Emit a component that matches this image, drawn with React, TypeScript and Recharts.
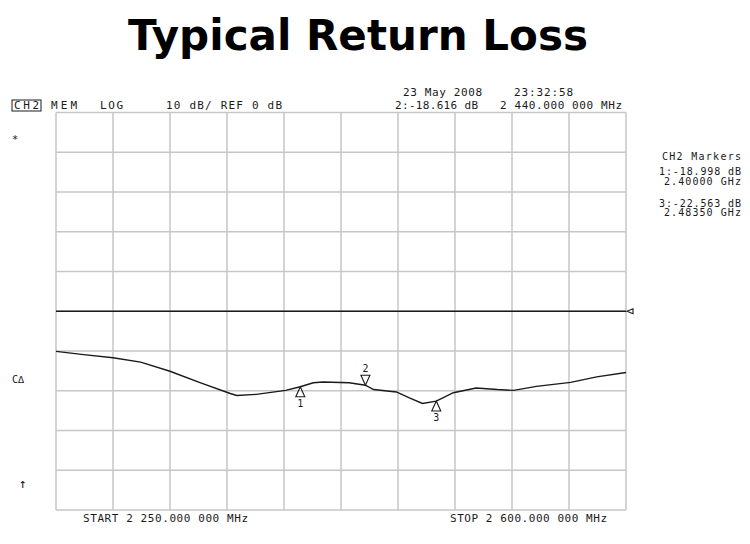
import {
  LineChart,
  Line,
  XAxis,
  YAxis,
  CartesianGrid,
  ReferenceLine,
  ReferenceDot
} from "recharts"

// S11 trace, CH2 memory, 2.25 - 2.60 GHz
const freqMHz = [
  2250, 2267, 2285, 2302, 2320, 2338, 2357, 2361, 2373, 2391, 2400, 2408, 2414,
  2430, 2440, 2445, 2459, 2467, 2475, 2483.5, 2494, 2508, 2521, 2531, 2545,
  2566, 2582, 2600
]
const returnLossDb = [
  -10.1, -10.9, -11.7, -12.8, -15.1, -17.9, -20.7, -21.2, -20.9, -19.9, -19.0,
  -18.0, -17.8, -18.0, -18.6, -19.7, -20.3, -21.8, -23.2, -22.6, -20.5, -19.3,
  -19.7, -19.9, -18.9, -17.9, -16.5, -15.4
]

// markers 1..3
const markerIds = [1, 2, 3]
const markerFreqMHz = [2400, 2440, 2483.5]
const markerDb = [-18.998, -18.616, -22.563]

// 10 divisions each way: 35 MHz/div, 10 dB/div, ref 0 dB
const freqTicks = [2250, 2285, 2320, 2355, 2390, 2425, 2460, 2495, 2530, 2565, 2600]
const dbTicks = [-50, -40, -30, -20, -10, 0, 10, 20, 30, 40, 50]

const MONO = "'DejaVu Sans Mono', 'Liberation Mono', monospace"
const INK = "#1a1a1a"

const data = freqMHz.map((f, i) => ({ f, db: returnLossDb[i] }))

const markerShape = (id: number) => (props: any) => {
  const { cx, cy } = props
  // marker 2 is the active one, drawn pointing down from above the trace
  const down = id === 2
  const h = 10
  const w = 4.5
  const pts = down
    ? `${cx},${cy} ${cx - w},${cy - h} ${cx + w},${cy - h}`
    : `${cx},${cy} ${cx - w},${cy + h} ${cx + w},${cy + h}`
  return (
    <g>
      <polygon points={pts} fill="none" stroke={INK} strokeWidth={1.1} />
      <text
        x={cx}
        y={down ? cy - h - 3 : cy + h + 10}
        textAnchor="middle"
        fontFamily={MONO}
        fontSize={10}
        fill={INK}
      >
        {id}
      </text>
    </g>
  )
}

const refEnd = (props: any) => {
  const { cx, cy } = props
  return (
    <polygon
      points={`${cx + 1},${cy} ${cx + 7},${cy - 2.5} ${cx + 7},${cy + 2.5}`}
      fill="none"
      stroke={INK}
      strokeWidth={1.1}
    />
  )
}

const T = ({ x, y, w, anchor, size, children }: any) => (
  <text
    x={x}
    y={y}
    textAnchor={anchor || "start"}
    fontFamily={MONO}
    fontSize={size || 11}
    fill={INK}
    textLength={w}
    lengthAdjust="spacing"
  >
    {children}
  </text>
)

export default function App() {
  return (
    <div
      style={{
        position: "absolute",
        left: 0,
        top: 0,
        width: 750,
        height: 544,
        background: "#fff"
      }}
    >
      <LineChart
        width={750}
        height={544}
        data={data}
        margin={{ top: 112.5, left: 56, right: 124, bottom: 34 }}
      >
        <CartesianGrid
          stroke="#c6c6c6"
          strokeWidth={1.5}
          horizontalValues={dbTicks}
          verticalValues={freqTicks}
        />
        <XAxis
          dataKey="f"
          type="number"
          domain={[2250, 2600]}
          ticks={freqTicks}
          hide
        />
        <YAxis type="number" domain={[-50, 50]} ticks={dbTicks} hide />
        <ReferenceLine y={0} stroke={INK} strokeWidth={1.3} />
        <ReferenceDot
          x={2600}
          y={0}
          ifOverflow="visible"
          shape={refEnd}
        />
        <Line
          dataKey="db"
          type="linear"
          stroke={INK}
          strokeWidth={1.4}
          dot={false}
          isAnimationActive={false}
        />
        {markerIds.map((id, i) => (
          <ReferenceDot
            key={id}
            x={markerFreqMHz[i]}
            y={markerDb[i]}
            ifOverflow="visible"
            shape={markerShape(id)}
          />
        ))}
      </LineChart>

      <svg
        width={750}
        height={544}
        style={{ position: "absolute", left: 0, top: 0, pointerEvents: "none" }}
      >
        <text
          x={358}
          y={50}
          textAnchor="middle"
          fontFamily="Verdana, 'DejaVu Sans', sans-serif"
          fontWeight="bold"
          fontSize={43}
          fill="#000"
          textLength={460}
          lengthAdjust="spacingAndGlyphs"
        >
          Typical Return Loss
        </text>

        {/* status lines */}
        <T x={403} y={95.5} w={79}>23 May 2008</T>
        <T x={514} y={95.5} w={59}>23:32:58</T>
        <rect x={12} y={100} width={29} height={11} fill="none" stroke={INK} strokeWidth={1} />
        <T x={14} y={109} w={25}>CH2</T>
        <T x={51} y={109} w={26}>MEM</T>
        <T x={100} y={109} w={23}>LOG</T>
        <T x={166} y={109} w={116}>10 dB/ REF 0 dB</T>
        <T x={395} y={109} w={83}>2:-18.616 dB</T>
        <T x={500} y={109} w={122}>2 440.000 000 MHz</T>

        {/* marker table */}
        <T x={741} y={159.5} w={79} anchor="end" size={10}>CH2 Markers</T>
        <T x={741} y={175} w={82} anchor="end" size={10}>1:-18.998 dB</T>
        <T x={741} y={185} w={77} anchor="end" size={10}>2.40000 GHz</T>
        <T x={741} y={206.5} w={82} anchor="end" size={10}>3:-22.563 dB</T>
        <T x={741} y={216} w={77} anchor="end" size={10}>2.48350 GHz</T>

        {/* left annotations */}
        <T x={15} y={143} anchor="middle">*</T>
        <T x={12} y={383} size={10}>C∆</T>
        <T x={23} y={488} anchor="middle" size={13}>↑</T>

        {/* sweep span */}
        <T x={83} y={522} w={165}>START 2 250.000 000 MHz</T>
        <T x={450} y={522} w={157}>STOP 2 600.000 000 MHz</T>
      </svg>
    </div>
  )
}
